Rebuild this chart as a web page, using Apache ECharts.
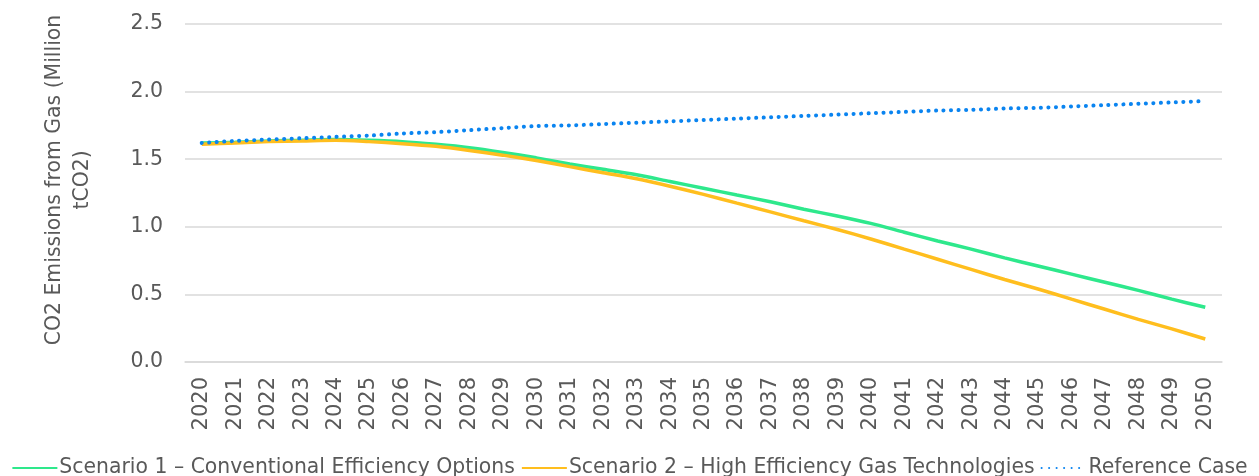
<!DOCTYPE html>
<html><head><meta charset="utf-8">
<script src="https://cdn.jsdelivr.net/npm/echarts@6/dist/echarts.min.js"></script>
<style>html,body{margin:0;padding:0;background:#fff}#c{width:1259px;height:476px}</style>
</head><body><div id="c"></div>
<script>
const years = ['2020','2021','2022','2023','2024','2025','2026','2027','2028','2029','2030','2031','2032','2033','2034','2035','2036','2037','2038','2039','2040','2041','2042','2043','2044','2045','2046','2047','2048','2049','2050'];
const scenario1 = [1.62,1.625,1.635,1.64,1.645,1.64,1.63,1.61,1.585,1.55,1.51,1.465,1.425,1.385,1.335,1.285,1.235,1.185,1.13,1.08,1.025,0.96,0.895,0.835,0.77,0.71,0.65,0.59,0.53,0.465,0.405];
const scenario2 = [1.61,1.62,1.63,1.635,1.64,1.63,1.615,1.595,1.565,1.53,1.49,1.445,1.40,1.355,1.30,1.24,1.175,1.11,1.045,0.98,0.91,0.835,0.76,0.685,0.61,0.54,0.465,0.39,0.315,0.245,0.17];
const reference = [1.62,1.635,1.645,1.655,1.665,1.675,1.69,1.70,1.715,1.73,1.745,1.75,1.76,1.77,1.78,1.79,1.80,1.81,1.82,1.83,1.84,1.85,1.86,1.865,1.875,1.88,1.89,1.90,1.91,1.92,1.93];
const names = ['Scenario 1 – Conventional Efficiency Options','Scenario 2 – High Efficiency Gas Technologies','Reference Case'];
const yTicks = {min:0, max:2.5, interval:0.5};

const font = '"DejaVu Sans", sans-serif';
const chart = echarts.init(document.getElementById('c'));
chart.setOption({
  animation:false,
  grid:{left:185,right:37,top:24,bottom:114},
  legend:{
    top:453,left:'center',itemWidth:45,itemHeight:10,itemGap:6,
    itemStyle:{opacity:0},
    textStyle:{color:'#595959',fontSize:20.4,fontFamily:font,padding:[0,0,0,-3]},
    data:names
  },
  xAxis:{
    type:'category',data:years,boundaryGap:true,
    axisLine:{lineStyle:{color:'#d9d9d9',width:1.5}},
    axisTick:{show:false},
    axisLabel:{rotate:90,color:'#595959',fontSize:21,fontFamily:font,margin:15,interval:0}
  },
  yAxis:{
    type:'value',min:yTicks.min,max:yTicks.max,interval:yTicks.interval,
    name:'CO2 Emissions from Gas (Million\ntCO2)',nameLocation:'middle',nameGap:88,
    nameTextStyle:{color:'#595959',fontSize:20.4,fontFamily:font,lineHeight:28,padding:[0,0,0,26]},
    axisLine:{show:false},axisTick:{show:false},
    splitLine:{lineStyle:{color:'#d9d9d9',width:1.5}},
    axisLabel:{color:'#595959',fontSize:20.5,fontFamily:font,margin:22,formatter:v=>v.toFixed(1)}
  },
  series:[
    {name:names[0],type:'line',data:scenario1,smooth:0.3,symbol:'none',z:2,
      itemStyle:{color:'#2EE88C'},lineStyle:{color:'#2EE88C',width:3.5}},
    {name:names[1],type:'line',data:scenario2,smooth:0.3,symbol:'none',z:3,
      itemStyle:{color:'#FFBE1E'},lineStyle:{color:'#FFBE1E',width:3.5}},
    {name:names[2],type:'line',data:reference,smooth:0.3,symbol:'none',z:4,
      itemStyle:{color:'#0A84F0'},lineStyle:{color:'#0A84F0',width:4,type:[0.1,7.4],cap:'round'}}
  ]
});
</script></body></html>
